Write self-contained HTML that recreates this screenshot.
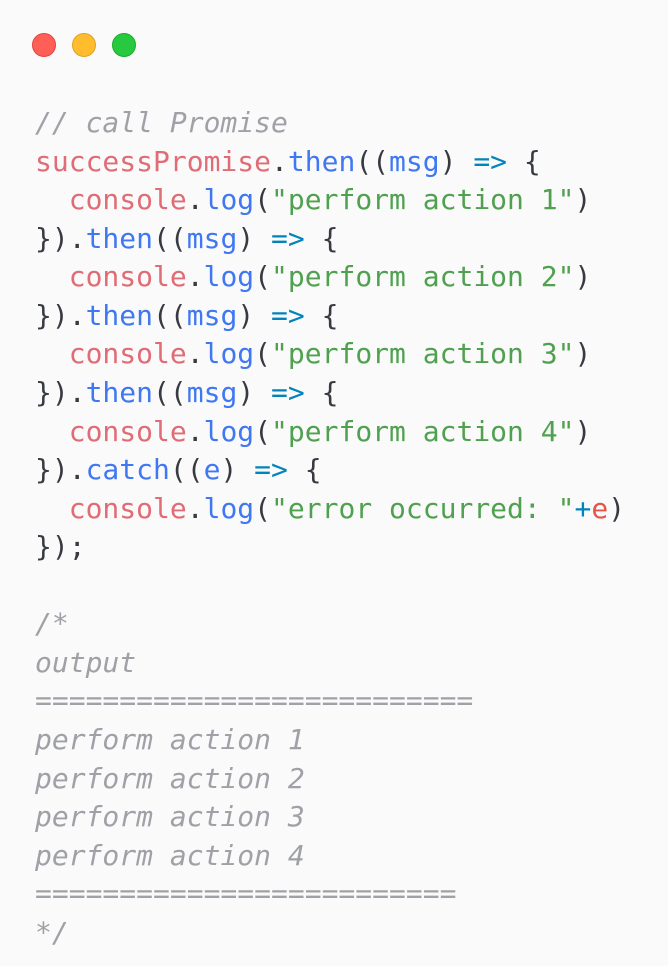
<!DOCTYPE html>
<html><head><meta charset="utf-8"><style>
html,body{margin:0;padding:0;}
body{width:668px;height:966px;background:#fafafa;position:relative;overflow:hidden;}
.dot{position:absolute;top:33px;width:24px;height:24px;border-radius:50%;}
pre{position:absolute;left:35px;top:104px;margin:0;font-family:"DejaVu Sans Mono","Liberation Mono",monospace;font-size:28px;line-height:38.57px;color:#383a42;}
.c{color:#a0a1a7;font-style:italic}
.r{color:#e06c75}
.b{color:#4078f2}
.g{color:#50a14f}
.k{color:#0184bc}
.e{color:#e45649}
</style></head><body>
<div class="dot" style="left:32px;background:#ff5f56;border:1px solid #e0443e;box-sizing:border-box"></div>
<div class="dot" style="left:72px;background:#ffbd2e;border:1px solid #dea123;box-sizing:border-box"></div>
<div class="dot" style="left:112px;background:#27c93f;border:1px solid #1aab29;box-sizing:border-box"></div>
<pre><span class="c">// call Promise</span>
<span class="r">successPromise</span>.<span class="b">then</span>((<span class="b">msg</span>) <span class="k">=&gt;</span> {
  <span class="r">console</span>.<span class="b">log</span>(<span class="g">"perform action 1"</span>)
}).<span class="b">then</span>((<span class="b">msg</span>) <span class="k">=&gt;</span> {
  <span class="r">console</span>.<span class="b">log</span>(<span class="g">"perform action 2"</span>)
}).<span class="b">then</span>((<span class="b">msg</span>) <span class="k">=&gt;</span> {
  <span class="r">console</span>.<span class="b">log</span>(<span class="g">"perform action 3"</span>)
}).<span class="b">then</span>((<span class="b">msg</span>) <span class="k">=&gt;</span> {
  <span class="r">console</span>.<span class="b">log</span>(<span class="g">"perform action 4"</span>)
}).<span class="b">catch</span>((<span class="b">e</span>) <span class="k">=&gt;</span> {
  <span class="r">console</span>.<span class="b">log</span>(<span class="g">"error occurred: "</span><span class="k">+</span><span class="e">e</span>)
});

<span class="c">/*
output
==========================
perform action 1
perform action 2
perform action 3
perform action 4
=========================
*/</span></pre>
</body></html>
